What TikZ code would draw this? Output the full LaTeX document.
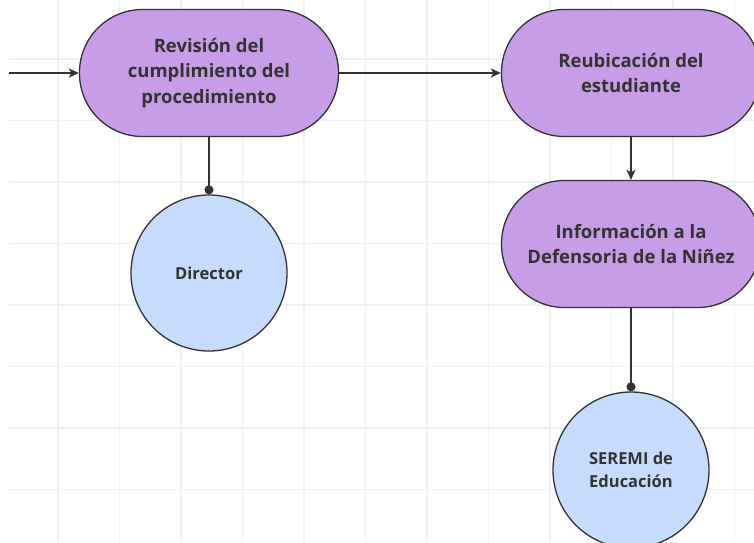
\documentclass[tikz,border=0pt]{standalone}
\usepackage{fontspec}
\setmainfont{Open Sans}
\usetikzlibrary{positioning,arrows.meta}
\definecolor{stepfill}{HTML}{C69DE6}
\definecolor{rolefill}{HTML}{C7DCFC}
\definecolor{inkgray}{HTML}{333333}
\definecolor{gridgray}{HTML}{F1F1F1}

\begin{document}
\begin{tikzpicture}[
  x=1pt, y=-1pt,
  stepbox/.style={draw=inkgray, line width=1.3pt, fill=stepfill, rounded corners=63pt,
    minimum width=259pt, minimum height=127pt, align=center, text=inkgray,
    font=\fontsize{18.5}{25.5}\selectfont\bfseries},
  role/.style={circle, draw=inkgray, line width=1.3pt, fill=rolefill, minimum size=156pt,
    inner sep=0pt, align=center, text=inkgray, font=\fontsize{16.5}{22.5}\selectfont\bfseries},
  arr/.style={-{Stealth[length=10pt, width=9pt, inset=2.5pt]}, line width=1.4pt, draw=inkgray},
  link/.style={-{Circle[length=9pt]}, line width=1.4pt, draw=inkgray}
]
\clip (0,0) rectangle (754,542);
% background grid
\foreach \gx in {58,119.5,...,740}
  \draw[gridgray, line width=1.2pt] (\gx,0) -- (\gx,542);
\foreach \gy in {59,120.5,...,540}
  \draw[gridgray, line width=1.2pt] (9,\gy) -- (754,\gy);

\node[stepbox] (revision) at (209,73) {Revisión del\\cumplimiento del\\procedimiento};
\node[stepbox] (reubicacion) at (631,73) {Reubicación del\\estudiante};
\node[stepbox] (informacion) at (631,244) {Información a la\\Defensoria de la Niñez};
\node[role] (director) at (209,273) {Director};
\node[role] (seremi) at (631,470) {SEREMI de\\Educación};
\coordinate (entry) at (9,73);

\draw[arr] (entry) -- (revision.west);
\draw[arr] (revision.east) -- (reubicacion.west);
\draw[arr] (reubicacion.south) -- (informacion.north);
\draw[link] (revision.south) -- (director.north);
\draw[link] (informacion.south) -- (seremi.north);
\end{tikzpicture}
\end{document}
